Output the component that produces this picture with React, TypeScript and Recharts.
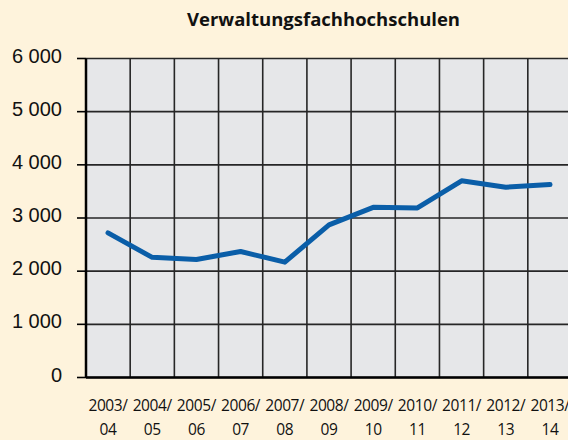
import React from "react";
import { LineChart, Line, XAxis, YAxis, CartesianGrid } from "recharts";

const years = ["2003/", "2004/", "2005/", "2006/", "2007/", "2008/", "2009/", "2010/", "2011/", "2012/", "2013/"];
const yearEnds = ["04", "05", "06", "07", "08", "09", "10", "11", "12", "13", "14"];
const students = [2720, 2260, 2220, 2370, 2170, 2870, 3200, 3190, 3700, 3580, 3630];
const yTicks = [0, 1000, 2000, 3000, 4000, 5000, 6000];

const data = years.map((y, i) => ({ year: y + yearEnds[i], first: y, second: yearEnds[i], value: students[i] }));

const fmt = (v: number) => (v === 0 ? "0" : `${Math.floor(v / 1000)} ${String(v % 1000).padStart(3, "0")}`);

function YearTick(props: any) {
  const { x, y, index } = props;
  return (
    <text
      x={x}
      y={y}
      textAnchor="middle"
      fontFamily="'Open Sans', sans-serif"
      fontSize={15.5}
      letterSpacing={-0.4}
      fill="#111"
    >
      <tspan x={x} dy={25.5}>{data[index]?.first}</tspan>
      <tspan x={x} dy={24}>{data[index]?.second}</tspan>
    </text>
  );
}

export default function App() {
  return (
    <div
      style={{
        position: "fixed",
        left: 0,
        top: 0,
        width: 568,
        height: 440,
        overflow: "hidden",
        background: "#fef3dc",
      }}
    >
      <div
        style={{
          position: "absolute",
          top: 6,
          left: 0,
          width: 647,
          textAlign: "center",
          fontFamily: "'Open Sans', sans-serif",
          fontWeight: 700,
          fontSize: 18.5,
          color: "#111",
          whiteSpace: "nowrap",
        }}
      >
        Verwaltungsfachhochschulen
      </div>
      <div style={{ position: "absolute", left: 0, top: 0 }}>
        <LineChart
          width={572}
          height={440}
          data={data}
          margin={{ top: 58.5, right: 0, bottom: 12.5, left: 0 }}
        >
          <CartesianGrid
            fill="#e6e7e9"
            stroke="#262626"
            strokeWidth={1.6}
            verticalCoordinatesGenerator={({ offset }: any) =>
              data.map((_, i) => offset.left + (i * offset.width) / data.length).concat(offset.left + offset.width)
            }
          />
          <XAxis
            dataKey="year"
            scale="point"
            padding={{ left: 22, right: 22 }}
            height={50}
            tickLine={false}
            axisLine={{ stroke: "#000", strokeWidth: 2.5 }}
            tick={<YearTick />}
            interval={0}
          />
          <YAxis
            width={86}
            domain={[0, 6000]}
            ticks={yTicks}
            tickFormatter={fmt}
            tickSize={9}
            tickMargin={15}
            tickLine={{ stroke: "#000", strokeWidth: 1.6 }}
            axisLine={{ stroke: "#000", strokeWidth: 2.5 }}
            tick={{ fontFamily: "'Liberation Sans', Arial, sans-serif", fontSize: 20, fill: "#111", dy: -3 }}
          />
          <Line
            type="linear"
            dataKey="value"
            stroke="#0a5ea8"
            strokeWidth={5}
            strokeLinecap="round"
            strokeLinejoin="round"
            dot={false}
            isAnimationActive={false}
          />
        </LineChart>
      </div>
    </div>
  );
}
